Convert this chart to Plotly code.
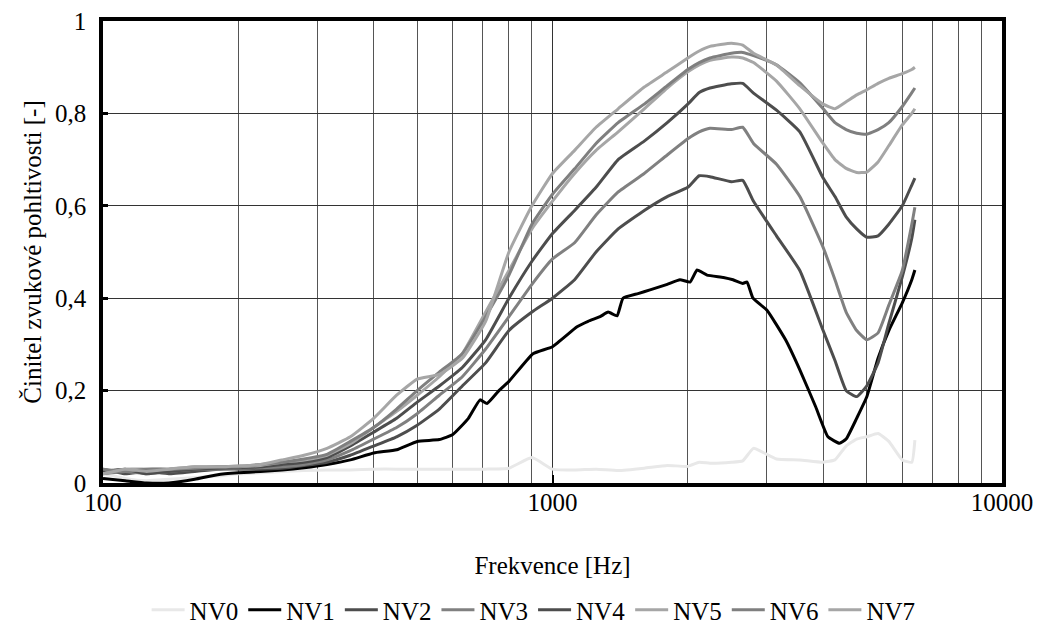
import plotly.graph_objects as go

freq = [100, 112, 125, 140, 160, 180, 200, 224, 250, 280, 315, 355, 400, 450, 500, 560, 630, 710, 800, 900,
        1000, 1120, 1250, 1400, 1600, 1800, 2000, 2120, 2240, 2500, 2650, 2800, 3150, 3550, 4000, 4250, 4500,
        4750, 5000, 5300, 5600, 6000, 6300, 6400]

nv0 = [0.02, 0.01, 0.005, 0.008, 0.012, 0.015, 0.02, 0.022, 0.025, 0.027, 0.028, 0.028, 0.03, 0.03, 0.03, 0.03,
       0.03, 0.03, 0.032, 0.055, 0.03, 0.028, 0.03, 0.027, 0.032, 0.038, 0.036, 0.045, 0.043, 0.045, 0.048, 0.075,
       0.052, 0.05, 0.045, 0.05, 0.08, 0.095, 0.1, 0.107, 0.09, 0.05, 0.045, 0.093]

freq_nv1 = [100, 112, 125, 140, 160, 180, 200, 224, 250, 280, 315, 355, 400, 450, 500, 560, 600, 650, 690, 715,
            760, 800, 905, 1000, 1134, 1200, 1276, 1330, 1392, 1435, 1550, 1648, 1800, 1921, 2023, 2097, 2207,
            2400, 2521, 2650, 2709, 2793, 3000, 3300, 3550, 3850, 4100, 4350, 4500, 4750, 5000, 5300, 5600,
            6000, 6300, 6400]
nv1 = [0.01, 0.005, 0.0, 0.0, 0.008, 0.018, 0.022, 0.025, 0.028, 0.033, 0.04, 0.05, 0.065, 0.072, 0.09, 0.094,
       0.105, 0.14, 0.18, 0.172, 0.2, 0.22, 0.28, 0.295, 0.338, 0.35, 0.36, 0.37, 0.362, 0.40, 0.41, 0.418, 0.43,
       0.44, 0.435, 0.461, 0.45, 0.445, 0.44, 0.432, 0.435, 0.40, 0.374, 0.31, 0.245, 0.165, 0.10, 0.086, 0.095,
       0.14, 0.186, 0.27, 0.33, 0.39, 0.44, 0.461]

nv2 = [0.03, 0.02, 0.025, 0.02, 0.025, 0.03, 0.03, 0.03, 0.032, 0.038, 0.045, 0.06, 0.08, 0.10, 0.125, 0.16,
       0.21, 0.26, 0.33, 0.37, 0.40, 0.44, 0.50, 0.55, 0.59, 0.62, 0.64, 0.665, 0.663, 0.652, 0.655, 0.61,
       0.535, 0.46, 0.33, 0.265, 0.20, 0.187, 0.21, 0.26, 0.345, 0.446, 0.53, 0.57]
nv3 = [0.02, 0.025, 0.02, 0.025, 0.03, 0.03, 0.032, 0.033, 0.035, 0.04, 0.05, 0.07, 0.095, 0.12, 0.15, 0.19,
       0.23, 0.29, 0.36, 0.43, 0.485, 0.52, 0.58, 0.63, 0.67, 0.71, 0.745, 0.76, 0.768, 0.765, 0.77, 0.735,
       0.69, 0.62, 0.51, 0.44, 0.37, 0.33, 0.31, 0.325, 0.385, 0.46, 0.56, 0.597]
nv4 = [0.025, 0.03, 0.02, 0.025, 0.03, 0.032, 0.033, 0.035, 0.04, 0.045, 0.055, 0.08, 0.11, 0.14, 0.175, 0.21,
       0.25, 0.31, 0.40, 0.48, 0.54, 0.59, 0.64, 0.70, 0.74, 0.78, 0.82, 0.845, 0.855, 0.864, 0.865, 0.844,
       0.807, 0.76, 0.66, 0.62, 0.576, 0.55, 0.532, 0.535, 0.56, 0.60, 0.645, 0.66]
nv5 = [0.02, 0.03, 0.03, 0.03, 0.035, 0.035, 0.035, 0.038, 0.045, 0.05, 0.06, 0.085, 0.12, 0.155, 0.19, 0.23,
       0.28, 0.37, 0.46, 0.55, 0.61, 0.67, 0.72, 0.76, 0.81, 0.855, 0.89, 0.905, 0.915, 0.922, 0.92, 0.91,
       0.87, 0.81, 0.735, 0.70, 0.681, 0.672, 0.673, 0.695, 0.73, 0.775, 0.80, 0.81]
nv6 = [0.03, 0.025, 0.03, 0.03, 0.032, 0.035, 0.036, 0.04, 0.045, 0.052, 0.062, 0.09, 0.12, 0.16, 0.20, 0.24,
       0.28, 0.36, 0.45, 0.56, 0.625, 0.68, 0.735, 0.78, 0.82, 0.86, 0.895, 0.91, 0.92, 0.93, 0.932, 0.925,
       0.905, 0.866, 0.81, 0.78, 0.765, 0.757, 0.755, 0.765, 0.78, 0.815, 0.845, 0.855]
nv7 = [0.02, 0.03, 0.025, 0.03, 0.035, 0.035, 0.037, 0.04, 0.05, 0.06, 0.075, 0.10, 0.14, 0.19, 0.225, 0.235,
       0.27, 0.35, 0.50, 0.60, 0.67, 0.72, 0.77, 0.81, 0.857, 0.89, 0.92, 0.935, 0.945, 0.952, 0.948, 0.93,
       0.905, 0.86, 0.82, 0.81, 0.825, 0.84, 0.851, 0.865, 0.876, 0.886, 0.895, 0.90]

names = ["NV0", "NV1", "NV2", "NV3", "NV4", "NV5", "NV6", "NV7"]
series = [(freq, nv0), (freq_nv1, nv1), (freq, nv2), (freq, nv3), (freq, nv4), (freq, nv5), (freq, nv6), (freq, nv7)]
colors = ["#e8e8e8", "#000000", "#4d4d4d", "#808080", "#4d4d4d", "#a6a6a6", "#7f7f7f", "#a6a6a6"]

x_tickvals = [100, 1000, 10000]
x_ticktext = ["100", "1000", "10000"]
x_minor = [200, 300, 400, 500, 600, 700, 800, 900, 2000, 3000, 4000, 5000, 6000, 7000, 8000, 9000]

FONT = "Liberation Serif"
FS = 25

fig = go.Figure()
for name, (fx, vals), col in zip(names, series, colors):
    fig.add_trace(go.Scatter(x=fx, y=vals, name=name, mode="lines",
                             line=dict(color=col, width=3, shape="spline", smoothing=0.4)))

fig.update_layout(
    width=1037, height=632,
    margin=dict(l=103, r=35, t=21, b=149, autoexpand=False),
    paper_bgcolor="white", plot_bgcolor="white",
    separators=", ",
    font=dict(family=FONT, size=FS, color="black"),
    showlegend=True,
    legend=dict(orientation="h", x=0.479, xanchor="center", y=-0.275, yanchor="middle",
                font=dict(family=FONT, size=FS), itemwidth=33, tracegroupgap=0),
)
fig.update_xaxes(
    type="log", range=[2, 4], automargin=False,
    tickvals=x_tickvals, ticktext=x_ticktext,
    showgrid=True, gridcolor="#333333", gridwidth=1,
    minor=dict(tickvals=x_minor, showgrid=True, gridcolor="#555555", gridwidth=1, ticks=""),
    showline=True, linecolor="black", linewidth=3.5, mirror=True,
    ticks="inside", ticklen=8, tickwidth=2, tickcolor="black",
    ticklabelstandoff=-6,
    tickfont=dict(family=FONT, size=FS),
    title=dict(text="Frekvence [Hz]", font=dict(family=FONT, size=FS), standoff=43),
    zeroline=False,
)
fig.update_yaxes(
    range=[0, 1], tickvals=[0, 0.2, 0.4, 0.6, 0.8, 1.0], automargin=False,
    showgrid=True, gridcolor="#333333", gridwidth=1,
    showline=True, linecolor="black", linewidth=3.5, mirror=True,
    ticks="inside", ticklen=5, tickwidth=3, tickcolor="black",
    ticklabelstandoff=8,
    tickfont=dict(family=FONT, size=FS),
    title=dict(text="Činitel zvukové pohltivosti [-]", font=dict(family=FONT, size=FS), standoff=7),
    zeroline=False,
)

fig.write_html("out.html", post_script="document.body.style.margin='0px';",
               config={"displayModeBar": False})
